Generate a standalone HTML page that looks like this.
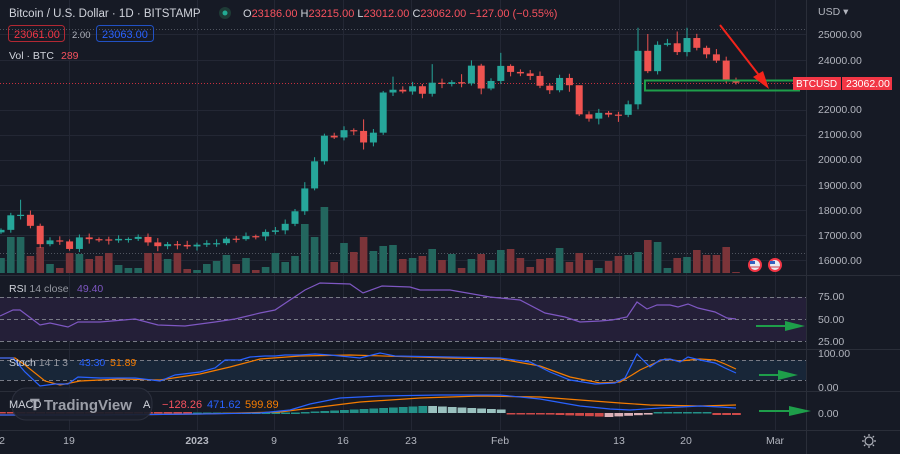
<!DOCTYPE html>
<html><head><meta charset="utf-8"><style>
body{margin:0;background:#161a25;width:900px;height:454px;overflow:hidden;font-family:"Liberation Sans",sans-serif}
svg{display:block}
text{font-family:"Liberation Sans",sans-serif}
</style></head><body>
<svg id="s" width="900" height="454" viewBox="0 0 900 454" xmlns="http://www.w3.org/2000/svg">
<rect width="900" height="454" fill="#161a25"/>
<g id="grid" stroke="#232734" stroke-width="1"></g>
<!-- pane separators -->
<g stroke="#2a2e39" stroke-width="1">
<line x1="0" y1="275.5" x2="900" y2="275.5"/>
<line x1="0" y1="349.5" x2="900" y2="349.5"/>
<line x1="0" y1="391.5" x2="900" y2="391.5"/>
<line x1="0" y1="430.5" x2="900" y2="430.5"/>
<line x1="806.5" y1="0" x2="806.5" y2="454"/>
</g>
<!-- RSI band -->
<rect x="0" y="297" width="806" height="44" fill="#241f38"/>
<g stroke="#787b86" stroke-dasharray="4,3" stroke-width="1">
<line x1="0" y1="297.5" x2="806" y2="297.5"/>
<line x1="0" y1="319.5" x2="806" y2="319.5"/>
<line x1="0" y1="341.5" x2="806" y2="341.5"/>
</g>
<!-- Stoch band -->
<rect x="0" y="360" width="806" height="20" fill="#182638"/>
<g stroke="#787b86" stroke-dasharray="4,3" stroke-width="1">
<line x1="0" y1="360.5" x2="806" y2="360.5"/>
<line x1="0" y1="380.5" x2="806" y2="380.5"/>
</g>
<!-- dotted lines -->
<line x1="0" y1="83.5" x2="806" y2="83.5" stroke="#f23645" stroke-dasharray="1,2" opacity="0.8"/>
<line x1="0" y1="29.5" x2="806" y2="29.5" stroke="#787b86" stroke-dasharray="1,2" opacity="0.6"/>
<line x1="0" y1="253.5" x2="806" y2="253.5" stroke="#787b86" stroke-dasharray="1,2" opacity="0.6"/>
<g id="vol"></g>
<g id="cdl"></g>
<!-- RSI -->
<polyline fill="none" stroke="#7e57c2" stroke-width="1.2" points="0,316 13,310 20,310 40,325 50,323 68,327 78,322 100,322 135,319 158,325 185,326 215,322 235,319 260,313 275,310 290,300 305,290 320,283 350,284 363,293 382,286 410,287 420,290 450,290 490,297 500,298 520,300 545,313 565,317 580,322 600,321 612,320 627,317 637,302 647,309 657,305 670,305 678,307 688,304 698,308 715,312 727,318 736,319"/>
<!-- Stoch -->
<polyline fill="none" stroke="#f57c00" stroke-width="1.2" points="0,358 15,358 25,365 45,381 60,385 80,381 120,379 160,380 200,374 230,367 260,359 300,356 350,355 450,358 500,359 540,366 570,377 600,383 620,382 632,375 640,370 655,363 665,359 680,361 700,359 715,360 725,364 736,369"/>
<polyline fill="none" stroke="#2962ff" stroke-width="1.2" points="0,358 13,358 25,372 40,386 55,384 68,384 78,377 100,378 135,378 160,381 175,375 200,372 215,368 225,360 240,360 250,357 265,356 275,356 285,355 300,355 315,354 330,355 360,358 380,353 395,356 450,357 500,358 530,362 550,372 570,380 595,384 615,383 625,378 637,354 650,367 660,360 670,359 680,362 688,357 700,360 715,363 725,368 736,373"/>
<!-- MACD -->
<g id="hist"></g>
<polyline fill="none" stroke="#f57c00" stroke-width="1.2" points="0,415 100,415 200,414 280,412 320,407 360,402 420,398 480,396 540,397 580,400 620,403 650,405 700,406 736,405"/>
<polyline fill="none" stroke="#2962ff" stroke-width="1.2" points="0,415 100,415 200,414 260,413 290,410 310,404 340,398 380,396 440,395 500,395 540,399 580,406 610,409 630,410 660,408 700,406 720,407 736,408"/>
<!-- watermark -->
<rect x="12" y="388" width="140" height="32" rx="14" fill="#1b1f2b" stroke="#2e3240" opacity="0.92"/>
<text x="9" y="408" fill="#d1d4dc" font-size="11">MACD</text>
<text x="30" y="410" fill="#b2b5be" font-size="15" font-weight="bold" opacity="0.85">𝐓 TradingView</text>
<text x="143" y="408" fill="#d1d4dc" font-size="11">A</text>
<text x="162" y="408" fill="#f7525f" font-size="11">−128.26</text>
<text x="207" y="408" fill="#2962ff" font-size="11">471.62</text>
<text x="245" y="408" fill="#f57c00" font-size="11">599.89</text>
<!-- RSI label -->
<text x="9" y="292" fill="#d1d4dc" font-size="10.5">RSI <tspan fill="#9598a1">14 close</tspan></text>
<text x="77" y="292" fill="#7e57c2" font-size="10.5">49.40</text>
<text x="9" y="366" fill="#d1d4dc" font-size="10.5">Stoch <tspan fill="#9598a1">14 1 3</tspan></text>
<text x="79" y="366" fill="#2962ff" font-size="10.5">43.30</text>
<text x="110" y="366" fill="#f57c00" font-size="10.5">51.89</text>
<!-- header -->
<text x="9" y="17" fill="#d1d4dc" font-size="11.5">Bitcoin / U.S. Dollar · 1D · BITSTAMP</text>
<circle cx="225" cy="13" r="6" fill="#1e3b36"/><circle cx="225" cy="13" r="2.5" fill="#22ab94"/>
<text x="243" y="17" fill="#d1d4dc" font-size="11">O<tspan fill="#f7525f">23186.00</tspan> H<tspan fill="#f7525f">23215.00</tspan> L<tspan fill="#f7525f">23012.00</tspan> C<tspan fill="#f7525f">23062.00</tspan> <tspan fill="#f7525f">−127.00 (−0.55%)</tspan></text>
<rect x="8.5" y="25.5" width="56" height="16" rx="3" fill="none" stroke="#b22833"/>
<text x="14" y="38" fill="#f23645" font-size="11">23061.00</text>
<text x="72" y="38" fill="#b2b5be" font-size="9.5">2.00</text>
<rect x="96.5" y="25.5" width="57" height="16" rx="3" fill="none" stroke="#2151c4"/>
<text x="102" y="38" fill="#2962ff" font-size="11">23063.00</text>
<text x="9" y="59" fill="#d1d4dc" font-size="10.5">Vol · BTC</text>
<text x="61" y="59" fill="#f7525f" font-size="10.5">289</text>
<!-- annotations -->
<rect x="645" y="80.5" width="154" height="10" fill="none" stroke="#1e9e4a" stroke-width="2"/>
<line x1="720" y1="25" x2="765" y2="83" stroke="#f2241b" stroke-width="2"/>
<polygon points="769,89 753,77 763,71" fill="#f2241b"/>
<g fill="none" stroke="#1e9e4a" stroke-width="2"></g>
<polygon points="756,325 785,325 785,321 805,326 785,331 785,327 756,327" fill="#1e9e4a"/>
<polygon points="759,374 778,374 778,370 798,375 778,380 778,376 759,376" fill="#1e9e4a"/>
<polygon points="759,410 789,410 789,406 811,411 789,416 789,412 759,412" fill="#1e9e4a"/>
<!-- flags -->
<g>
<circle cx="755" cy="265" r="7" fill="#f23645"/><circle cx="755" cy="265" r="5" fill="#e8eaf0"/><rect x="750" y="261" width="5" height="3" fill="#3060c0"/><line x1="750" y1="267" x2="760" y2="267" stroke="#d04050"/>
<circle cx="775" cy="265" r="7" fill="#f23645"/><circle cx="775" cy="265" r="5" fill="#e8eaf0"/><rect x="770" y="261" width="5" height="3" fill="#3060c0"/><line x1="770" y1="267" x2="780" y2="267" stroke="#d04050"/>
</g>
<!-- price axis -->
<g fill="#b2b5be" font-size="10.5">
<text x="818" y="15">USD ▾</text>
<text x="818" y="38">25000.00</text>
<text x="818" y="64">24000.00</text>
<text x="818" y="113">22000.00</text>
<text x="818" y="138">21000.00</text>
<text x="818" y="163">20000.00</text>
<text x="818" y="189">19000.00</text>
<text x="818" y="214">18000.00</text>
<text x="818" y="239">17000.00</text>
<text x="818" y="264">16000.00</text>
<text x="818" y="300">75.00</text>
<text x="818" y="323">50.00</text>
<text x="818" y="345">25.00</text>
<text x="818" y="357">100.00</text>
<text x="818" y="391">0.00</text>
<text x="818" y="417">0.00</text>
</g>
<rect x="793" y="77" width="48" height="13" fill="#f23645"/>
<rect x="842" y="77" width="50" height="13" fill="#f23645"/>
<text x="796" y="87" fill="#fff" font-size="10">BTCUSD</text>
<text x="846" y="87" fill="#fff" font-size="10.5">23062.00</text>
<!-- time axis -->
<g fill="#b2b5be" font-size="10.5" text-anchor="middle">
<text x="2" y="444">2</text>
<text x="69" y="444">19</text>
<text x="197" y="444" font-weight="bold">2023</text>
<text x="274" y="444">9</text>
<text x="343" y="444">16</text>
<text x="411" y="444">23</text>
<text x="500" y="444">Feb</text>
<text x="619" y="444">13</text>
<text x="686" y="444">20</text>
<text x="775" y="444">Mar</text>
</g>
<g transform="translate(869,441)" stroke="#b2b5be" fill="none" stroke-width="1.2">
<circle r="4"/><path d="M0,-7V-5M0,5V7M-7,0H-5M5,0H7M-5,-5L-3.6,-3.6M5,5L3.6,3.6M-5,5L-3.6,3.6M5,-5L3.6,-3.6"/>
</g>
</svg>
<script>
const NS="http://www.w3.org/2000/svg";
function el(p,t,a){const e=document.createElementNS(NS,t);for(const k in a)e.setAttribute(k,a[k]);p.appendChild(e);return e;}
const g=document.getElementById('grid');
[69,197,274,343,411,500,619,686,775].forEach(x=>el(g,'line',{x1:x+.5,y1:0,x2:x+.5,y2:430}));
[34,60,110,135,160,185,210,235,260].forEach(y=>el(g,'line',{x1:0,y1:y+.5,x2:806,y2:y+.5}));
const C=[17200,17780,17800,17360,16630,16780,16740,16440,16900,16830,16820,16780,16840,16840,16920,16700,16550,16630,16600,16540,16610,16670,16670,16850,16830,16950,16940,17120,17180,17440,17940,18850,19930,20950,20880,21170,21140,20680,21070,22670,22780,22710,22920,22620,23060,23010,23080,23030,23740,22830,23130,23730,23490,23430,23330,22940,22760,23250,22960,21800,21630,21860,21790,21780,22200,24330,23520,24570,24630,24280,24840,24450,24190,23940,23190,23062];
const HI={2:18400,31:19100,37:21600,40:23300,44:23800,48:23950,51:24250,65:25250,66:25000,70:25250,69:25100,47:23400,59:22400,73:24400};
const LO={37:20400,16:16350,49:22600,65:22000,58:22700,61:21400,63:21500};
const V=[258,237,237,256,247,264,268,253,254,259,256,253,265,268,268,253,253,259,253,269,270,264,261,255,264,258,270,267,253,262,256,224,237,207,262,243,252,237,251,246,245,259,258,256,249,260,254,268,259,254,260,250,249,258,267,259,258,248,262,253,260,268,261,256,255,252,240,242,268,258,257,250,255,255,247,272];
const y=p=>34+(25000-p)*0.02511;
const cd=document.getElementById('cdl'),vg=document.getElementById('vol'),hg=document.getElementById('hist');
for(let i=0;i<C.length;i++){
 const x=1+i*9.8; const c=C[i]; const o=i==0?17100:(i==75?23186:C[i-1]);
 const up=c>=o; const col=up?'#26a69a':'#ef5350';
 const hi=HI[i]||Math.max(o,c)+60+((i*37)%120); const lo=LO[i]||Math.min(o,c)-60-((i*53)%120);
 el(vg,'rect',{x:x-3.8,y:V[i],width:7.6,height:273-V[i],fill:up?'#23665e':'#7c3439'});
 el(cd,'line',{x1:x,y1:y(hi),x2:x,y2:y(lo),stroke:col,'stroke-width':1});
 const t=y(Math.max(o,c)),b=y(Math.min(o,c));
 el(cd,'rect',{x:x-3.5,y:t,width:7,height:Math.max(1.2,b-t),fill:col});
 // macd hist
 let h,hc;
 if(i<20){h=-1;hc='#ef5350';} else if(i<30){h=-0.5;hc='#26a69a';}
 else if(i<44){h=-(i-29)*0.5;hc='#26a69a';}
 else if(i<52){h=-(7-(i-44)*0.5);hc='#b2dfdb';}
 else if(i<62){h=(i-52)*0.4;hc='#ef5350';}
 else if(i<67){h=4-(i-62)*0.6;hc='#ffcdd2';}
 else if(i<73){h=-1;hc='#26a69a';}
 else {h=2;hc='#ef5350';}
 const hy=413;
 el(hg,'rect',{x:x-4,y:h<0?hy+h:hy,width:8.8,height:Math.max(1.5,Math.abs(h)),fill:hc,opacity:0.85});
}
</script>
</body></html>
